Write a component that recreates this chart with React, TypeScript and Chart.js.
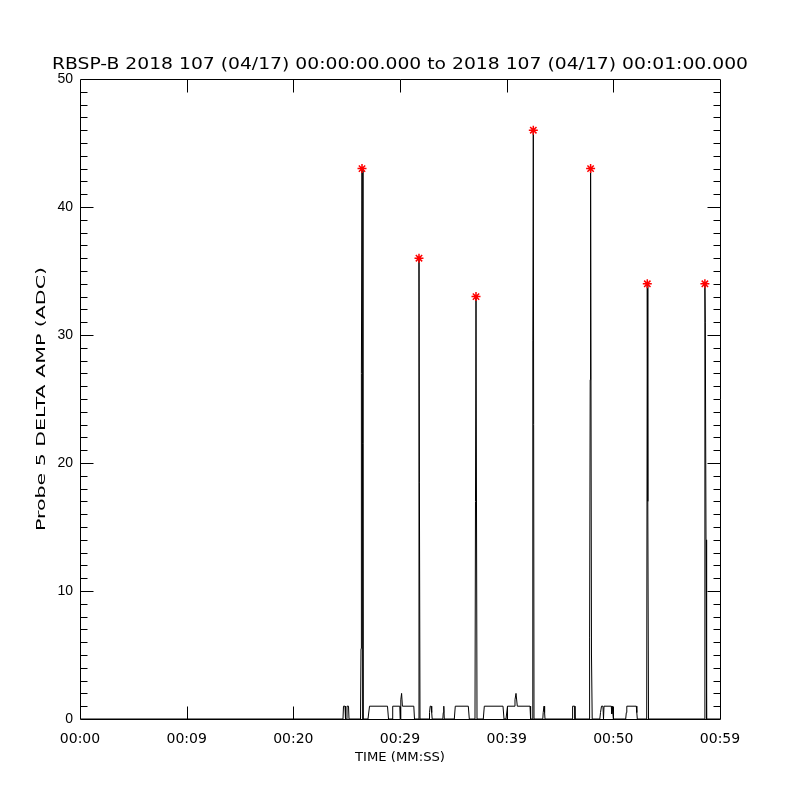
import React, { useEffect, useRef } from "react";
import { Chart, registerables } from "chart.js";
Chart.register(...registerables);

// Time in seconds after 00:00:00.000, amplitude in ADC
const sampleTimes = [
  0, 24.656, 24.703, 24.844, 24.891, 24.984, 25.031, 25.172, 25.219,
  26.297, 26.344, 26.381, 26.438, 26.531,
  27.0, 27.141, 28.828, 28.922,
  29.25, 29.316, 29.981, 30.019, 30.075, 30.15, 30.225, 31.294, 31.359,
  31.716, 31.781, 31.819, 31.875,
  32.719, 32.766, 32.831, 32.925, 32.972, 33.019,
  34.013, 34.059, 34.106, 34.153,
  35.091, 35.184, 36.403, 36.497,
  37.031, 37.078, 37.125, 37.219,
  37.809, 37.903, 39.656, 39.75,
  39.938, 40.078, 40.688, 40.781, 40.875, 40.997, 42.188, 42.244,
  42.403, 42.45, 42.497, 42.563,
  43.388, 43.425, 43.5, 43.556, 43.594,
  46.153, 46.181, 46.378, 46.406,
  47.738, 47.775, 47.831, 47.869, 47.953, 48.019,
  48.731, 48.797, 48.891, 49.031, 49.078, 49.125, 49.809, 49.856, 49.903, 50.0,
  51.159, 51.216, 51.263, 52.153, 52.2, 52.247,
  53.128, 53.184, 53.231, 53.297,
  58.528, 58.584, 58.622, 58.688, 58.744,
  60,
];
const sampleAmps = [
  0, 0, 1, 1, 0, 0, 1, 1, 0,
  0, 5.5, 27, 43, 0,
  0, 1, 1, 0,
  0, 1, 1, 0, 1.5, 2, 1, 1, 0,
  0, 36, 18.5, 0,
  0, 0.5, 1, 1, 0.5, 0,
  0, 0.5, 1, 0,
  0, 1, 1, 0,
  0, 17, 33, 0,
  0, 1, 1, 0,
  0, 1, 1, 1.5, 2, 1, 1, 0,
  0, 29.6, 46, 0,
  0, 0.5, 1, 0.5, 0,
  0, 1, 1, 0,
  0, 6.4, 26.5, 43, 5, 0,
  0, 0.5, 1, 1, 0, 1, 1, 0.4, 1, 0,
  0, 0.5, 1, 1, 0.5, 0,
  0, 34, 17, 0,
  0, 34, 31, 14, 0,
  0,
];
const peakTimes = [26.438, 31.781, 37.125, 42.497, 47.869, 53.184, 58.584];
const peakAmps = [43, 36, 33, 46, 43, 34, 34];

const xTickLabels = ["00:00", "00:09", "00:20", "00:29", "00:39", "00:50", "00:59"];
const titleText = "RBSP-B 2018 107 (04/17) 00:00:00.000 to 2018 107 (04/17) 00:01:00.000";
const xTitleText = "TIME (MM:SS)";
const yTitleText = "Probe 5 DELTA AMP (ADC)";

function drawStretched(
  ctx: CanvasRenderingContext2D,
  text: string,
  cx: number,
  cy: number,
  width: number,
  font: string,
  rot: number
) {
  ctx.save();
  ctx.translate(cx, cy);
  if (rot) ctx.rotate(rot);
  ctx.font = font;
  const w = ctx.measureText(text).width;
  ctx.scale(width / w, 1);
  ctx.textAlign = "center";
  ctx.textBaseline = "middle";
  ctx.fillStyle = "#000";
  ctx.fillText(text, 0, 0);
  ctx.restore();
}

const idlFrame = {
  id: "idlFrame",
  afterDraw(chart: any) {
    const { ctx, chartArea: a, scales } = chart;
    const xs = scales.x;
    const ys = scales.y;
    const L = Math.round(a.left) + 0.5;
    const R = Math.round(a.right) + 0.5;
    const T = Math.round(a.top) + 0.5;
    const B = Math.round(a.bottom) + 0.5;
    ctx.save();
    ctx.strokeStyle = "#000";
    ctx.lineWidth = 1;
    ctx.beginPath();
    ctx.moveTo(L, T);
    ctx.lineTo(R, T);
    ctx.lineTo(R, B);
    ctx.lineTo(L, B);
    ctx.closePath();
    for (let v = 1; v < 50; v++) {
      const yp = Math.round(ys.getPixelForValue(v)) + 0.5;
      const len = v % 10 === 0 ? 13 : 7;
      ctx.moveTo(L, yp);
      ctx.lineTo(L + len, yp);
      ctx.moveTo(R, yp);
      ctx.lineTo(R - len, yp);
    }
    for (let v = 10; v < 60; v += 10) {
      const xp = Math.round(xs.getPixelForValue(v)) + 0.5;
      ctx.moveTo(xp, B);
      ctx.lineTo(xp, B - 13);
      ctx.moveTo(xp, T);
      ctx.lineTo(xp, T + 13);
    }
    ctx.stroke();
    ctx.restore();

    drawStretched(ctx, titleText, 400, 65, 696, "15px 'DejaVu Sans'", 0);
    drawStretched(ctx, xTitleText, 400, 758, 90, "13px 'DejaVu Sans'", 0);
    drawStretched(ctx, yTitleText, 42, 399, 264, "13px 'DejaVu Sans'", -Math.PI / 2);
  },
};

export default function App() {
  const canvasRef = useRef<HTMLCanvasElement | null>(null);
  useEffect(() => {
    if (!canvasRef.current) return;
    const chart = new Chart(canvasRef.current, {
      type: "scatter",
      data: {
        datasets: [
          {
            label: "peaks",
            data: peakTimes.map((t, i) => ({ x: t, y: peakAmps[i] })),
            showLine: false,
            pointStyle: "star",
            pointRadius: 4.5,
            borderColor: "#ff0000",
            backgroundColor: "#ff0000",
            borderWidth: 1.5,
            order: 0,
          },
          {
            label: "amp",
            data: sampleTimes.map((t, i) => ({ x: t, y: sampleAmps[i] })),
            showLine: true,
            borderColor: "#000",
            borderWidth: 1,
            pointRadius: 0,
            tension: 0,
            order: 1,
          },
        ],
      },
      options: {
        animation: false,
        responsive: false,
        layout: { padding: { top: 79, right: 80, left: 0, bottom: 0 } },
        plugins: {
          legend: { display: false },
          title: { display: false },
          tooltip: { enabled: false },
        },
        scales: {
          x: {
            type: "linear",
            min: 0,
            max: 60,
            ticks: {
              stepSize: 10,
              autoSkip: false,
              maxRotation: 0,
              minRotation: 0,
              padding: 12,
              color: "#000",
              font: { family: "'DejaVu Sans'", size: 14 },
              callback: (v: any) => xTickLabels[Math.round(Number(v) / 10)] ?? "",
            },
            grid: { display: false, drawTicks: false },
            border: { display: false },
            afterFit: (s: any) => {
              s.height = 81;
            },
          },
          y: {
            type: "linear",
            min: 0,
            max: 50,
            ticks: {
              stepSize: 10,
              padding: 7,
              color: "#000",
              font: { family: "'Liberation Sans'", size: 14 },
            },
            grid: { display: false, drawTicks: false },
            border: { display: false },
            afterFit: (s: any) => {
              s.width = 80;
            },
          },
        },
      },
      plugins: [idlFrame],
    });
    return () => chart.destroy();
  }, []);
  return (
    <div style={{ position: "absolute", left: 0, top: 0, width: 800, height: 800, background: "#fff" }}>
      <canvas ref={canvasRef} width={800} height={800} />
    </div>
  );
}
